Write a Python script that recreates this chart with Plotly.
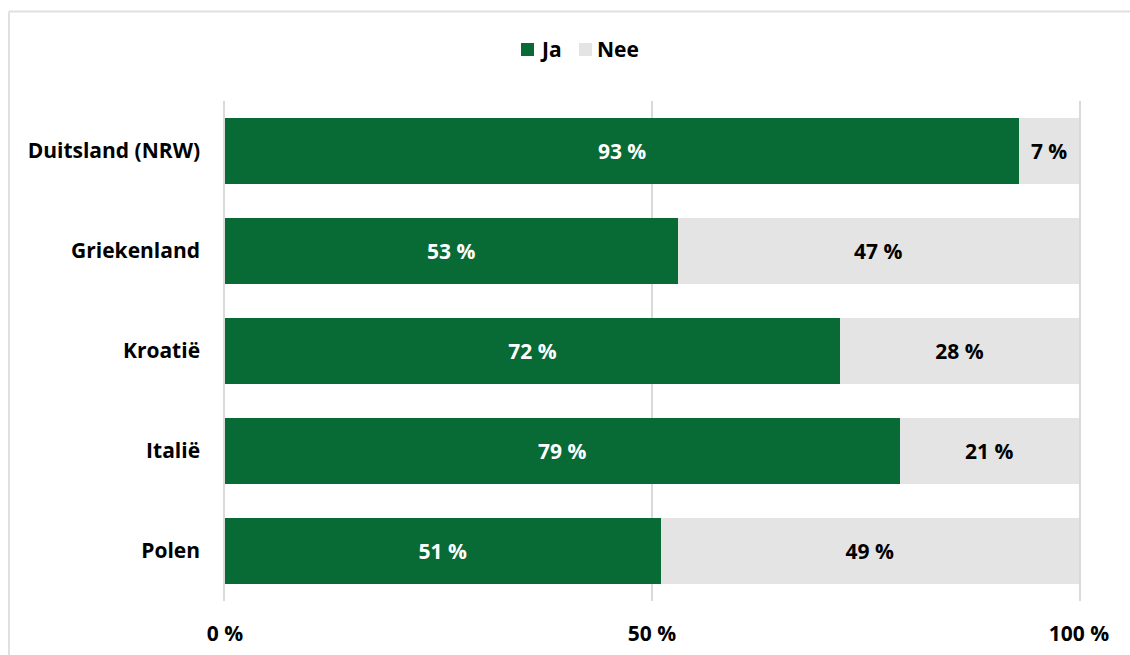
import plotly.graph_objects as go

# Survey results per country (percent answering yes / no)
countries = ["Duitsland (NRW)", "Griekenland", "Kroatië", "Italië", "Polen"]
ja_values = [93, 53, 72, 79, 51]
nee_values = [7, 47, 28, 21, 49]
series_names = ["Ja", "Nee"]
x_tickvals = [0, 50, 100]
x_ticktext = ["0 %", "50 %", "100 %"]

GREEN = "#086A35"
GREY = "#E4E4E4"
GRID = "#D9D9D9"
FONT = "Open Sans"
FS = 21

W, H = 1130, 655
M_L, M_R, M_T, M_B = 225, 51, 101, 54
plot_w = W - M_L - M_R
plot_h = H - M_T - M_B


def px_to_paper_x(px):
    return (px - M_L) / plot_w


def px_to_paper_y(py):
    return (H - M_B - py) / plot_h


fig = go.Figure()

series = [(series_names[0], ja_values, GREEN, "white"),
          (series_names[1], nee_values, GREY, "black")]
for name, vals, color, txtcol in series:
    fig.add_trace(go.Bar(
        y=countries, x=vals, name=name, orientation="h",
        marker=dict(color=color, line=dict(width=0)),
        texttemplate="%{x} %", textposition="inside", insidetextanchor="middle",
        textfont=dict(family=FONT, size=FS, color=txtcol, weight="bold"),
        constraintext="none", showlegend=False,
    ))

# compact legend above the plot: colour square followed by series name
legend_items = [(series_names[0], GREEN, 521, 540), (series_names[1], GREY, 579, 597)]
for name, color, sq_x, txt_x in legend_items:
    fig.add_shape(type="rect", xref="paper", yref="paper",
                  x0=px_to_paper_x(sq_x), x1=px_to_paper_x(sq_x + 13),
                  y0=px_to_paper_y(43), y1=px_to_paper_y(56),
                  fillcolor=color, line=dict(width=0))
    fig.add_annotation(xref="paper", yref="paper",
                       x=px_to_paper_x(txt_x - 2), y=px_to_paper_y(49),
                       xanchor="left", yanchor="middle", showarrow=False,
                       text=name,
                       font=dict(family=FONT, size=FS, color="black", weight="bold"))

# light frame around the chart container (top and left edges visible)
frame = dict(color="#E0E0E0", width=2)
fig.add_shape(type="line", xref="paper", yref="paper",
              x0=px_to_paper_x(9), x1=px_to_paper_x(W + 5),
              y0=px_to_paper_y(11.5), y1=px_to_paper_y(11.5), line=frame)
fig.add_shape(type="line", xref="paper", yref="paper",
              x0=px_to_paper_x(9), x1=px_to_paper_x(9),
              y0=px_to_paper_y(11.5), y1=px_to_paper_y(H + 5), line=frame)

fig.update_layout(
    width=W, height=H,
    barmode="stack", bargap=0.34,
    margin=dict(l=M_L, r=M_R, t=M_T, b=M_B, autoexpand=False),
    paper_bgcolor="white", plot_bgcolor="white",
    font=dict(family=FONT, size=FS, color="black", weight="bold"),
    showlegend=False,
    xaxis=dict(
        range=[0, 100], tickvals=x_tickvals, ticktext=x_ticktext,
        showgrid=True, gridcolor=GRID, gridwidth=1.5, automargin=False,
        zeroline=False, showline=False, ticks="", ticklabelstandoff=18,
        tickfont=dict(family=FONT, size=FS, color="black", weight="bold"),
    ),
    yaxis=dict(
        categoryorder="array", categoryarray=countries, autorange="reversed",
        showgrid=False, zeroline=False, automargin=False,
        showline=True, mirror=True, linecolor=GRID, linewidth=1.5,
        ticks="", ticklabelstandoff=19,
        tickfont=dict(family=FONT, size=FS, color="black", weight="bold"),
    ),
)

fig.write_html("out.html")
